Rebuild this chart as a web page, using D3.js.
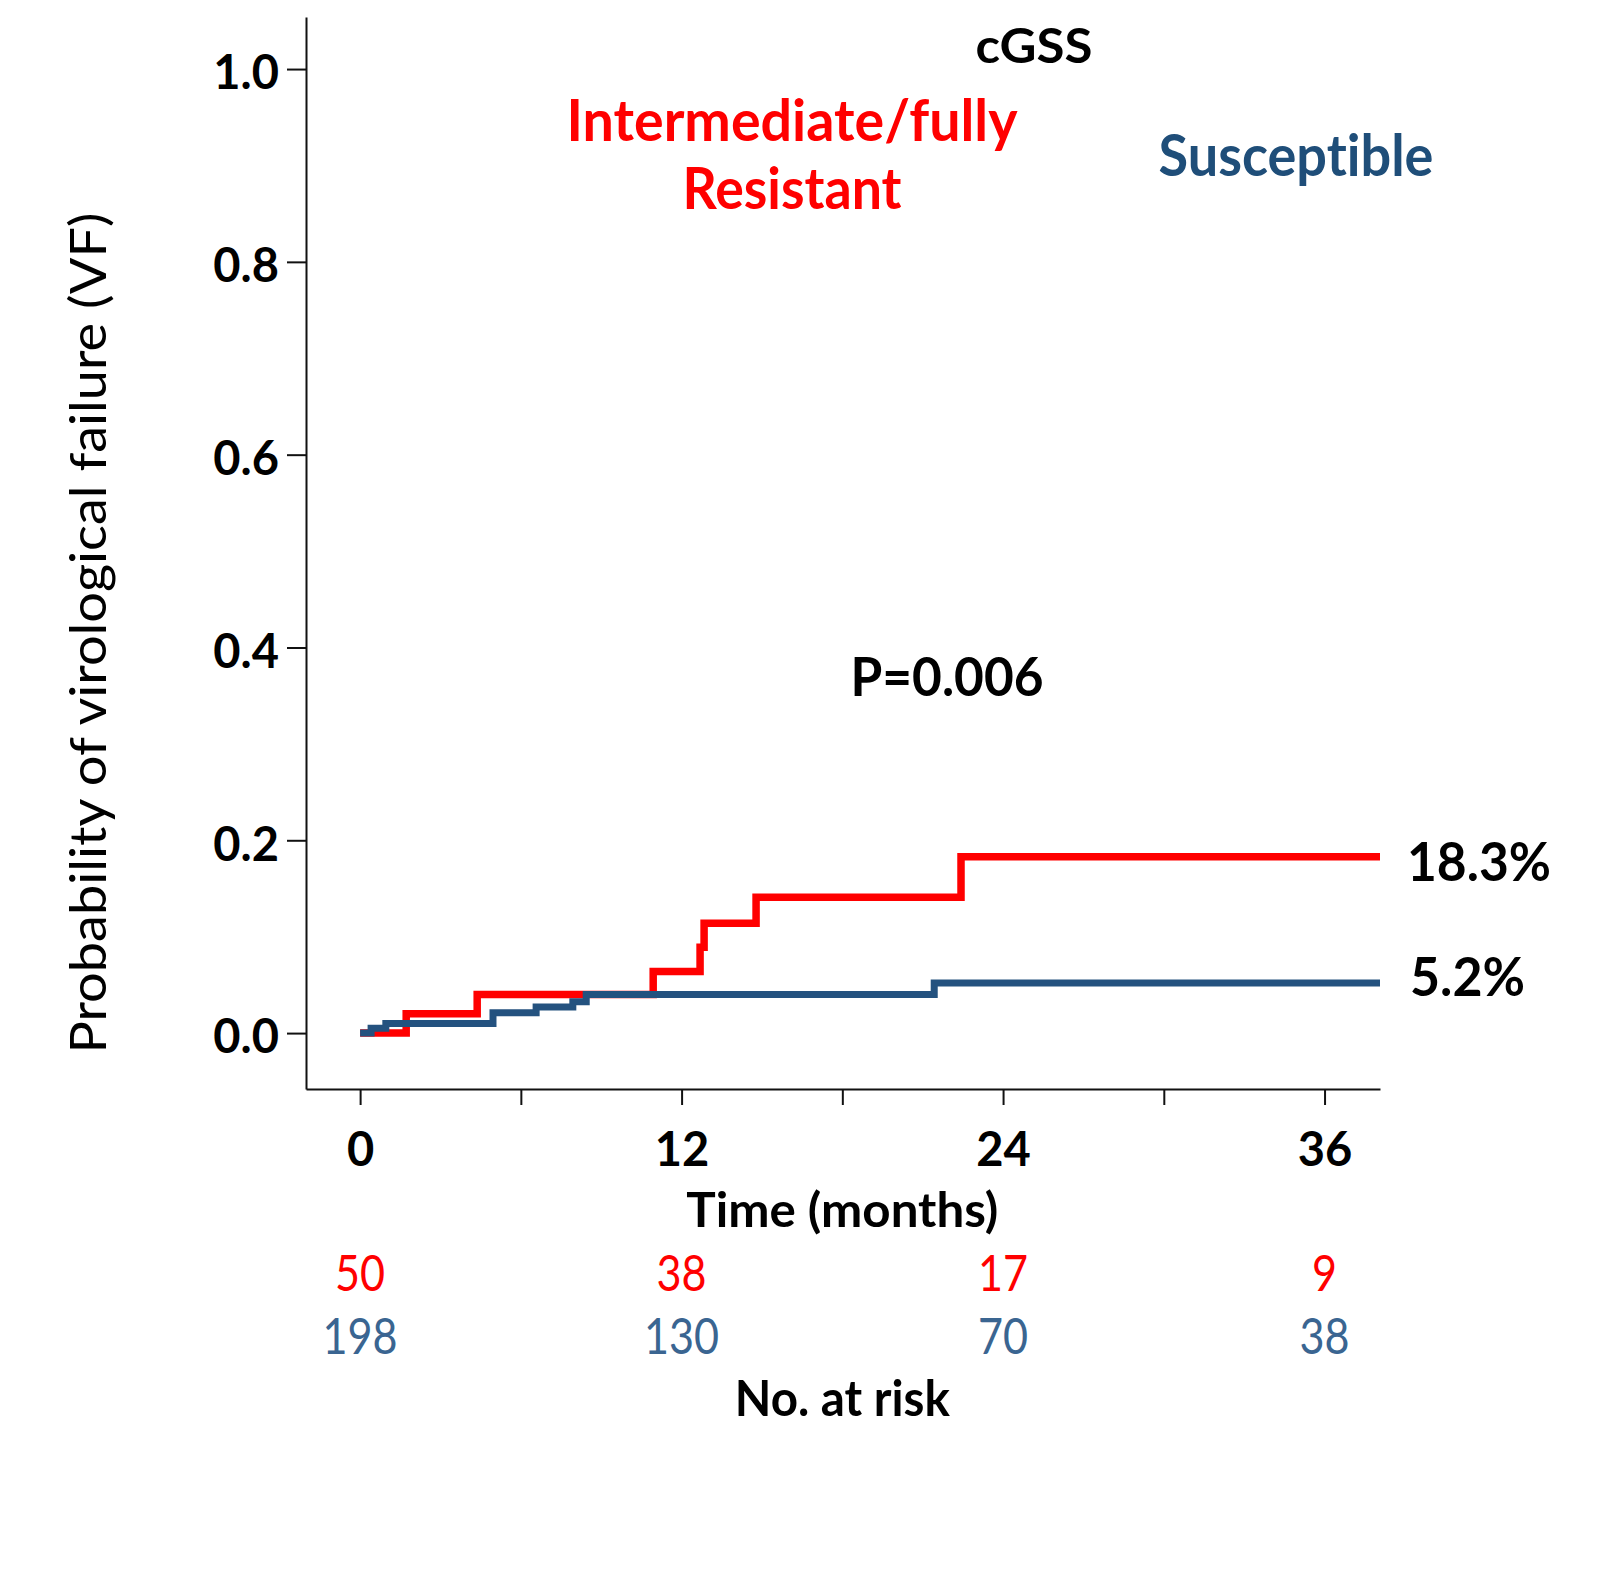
<!DOCTYPE html>
<html>
<head>
<meta charset="utf-8">
<script src="https://cdn.jsdelivr.net/npm/d3@7"></script>
<style>
  body { margin: 0; background: #fff; }
  svg { display: block; font-family: Lato, "Open Sans", sans-serif; font-variant-ligatures: none; }
  .axis path, .axis line { stroke: #111; stroke-width: 2; }
</style>
</head>
<body>
<script>
// Cumulative incidence of VF
const redTimes  = [0, 1.72, 4.37, 10.94, 12.69, 12.84, 14.78, 22.43, 38.07];
const redProb   = [0, 0.020, 0.040, 0.064, 0.089, 0.114, 0.141, 0.183, 0.183];
const blueTimes = [0, 0.41, 0.96, 4.96, 6.57, 7.94, 8.44, 21.43, 38.07];
const blueProb  = [0, 0.005, 0.010, 0.021, 0.027, 0.0325, 0.040, 0.052, 0.052];

const yTicks = [0, 0.2, 0.4, 0.6, 0.8, 1.0];
const xTicks = [0, 6, 12, 18, 24, 30, 36];
const xLabelled = [0, 12, 24, 36];

// Number at risk
const riskTimes = [0, 12, 24, 36];
const riskRed   = [50, 38, 17, 9];
const riskBlue  = [198, 130, 70, 38];

const RED = "#ff0000", BLUE = "#24527f", BLUE_TXT = "#1f4e79", BLUE_RISK = "#3a6591";

var width = 1607, height = 1571;

var svg = d3.select("body").append("svg")
    .attr("width", width)
    .attr("height", height);

svg.append("rect").attr("width", width).attr("height", height).attr("fill", "#fff");

// Scales
var x = d3.scaleLinear().domain([-2.02, 38.07]).range([306, 1380]);
var y = d3.scaleLinear().domain([-0.058, 1.054]).range([1089, 17]);

// Y axis
var yAxis = d3.axisLeft(y)
    .tickValues(yTicks)
    .tickSize(19)
    .tickSizeOuter(0)
    .tickPadding(8)
    .tickFormat(d3.format(".1f"));

var gy = svg.append("g")
    .attr("class", "axis")
    .attr("transform", `translate(${x.range()[0]},0)`)
    .call(yAxis);
gy.selectAll("text")
    .attr("font-size", 47)
    .attr("font-weight", 700)
    .attr("fill", "#000")
    .attr("dy", "0.42em")
    .attr("font-family", "Lato");

// X axis
var xAxis = d3.axisBottom(x)
    .tickValues(xTicks)
    .tickSize(16)
    .tickSizeOuter(0)
    .tickPadding(28)
    .tickFormat(d => xLabelled.includes(d) ? d : "");

var gx = svg.append("g")
    .attr("class", "axis")
    .attr("transform", `translate(0,${y.range()[0]})`)
    .call(xAxis);
gx.selectAll("text")
    .attr("font-size", 47)
    .attr("font-weight", 700)
    .attr("fill", "#000")
    .attr("font-family", "Lato");

// Step curves
var step = d3.line()
    .curve(d3.curveStepAfter)
    .x(d => x(d[0]))
    .y(d => y(d[1]));

svg.append("path")
    .datum(d3.zip(redTimes, redProb))
    .attr("fill", "none")
    .attr("stroke", RED)
    .attr("stroke-width", 7.5)
    .attr("d", step);

svg.append("path")
    .datum(d3.zip(blueTimes, blueProb))
    .attr("fill", "none")
    .attr("stroke", BLUE)
    .attr("stroke-width", 7)
    .attr("d", step);

// Labels
function label(txt, cx, base, size, weight, color, len, anchor) {
    return svg.append("text")
        .attr("x", cx)
        .attr("y", base)
        .attr("text-anchor", anchor || "middle")
        .attr("font-size", size)
        .attr("font-weight", weight)
        .attr("fill", color)
        .attr("textLength", len)
        .attr("lengthAdjust", "spacingAndGlyphs")
        .text(txt);
}

label("cGSS", 1034, 63, 48, 700, "#000", 117);
label("Intermediate/fully", 792, 141, 58, 700, RED, 451);
label("Resistant", 792, 209, 58, 700, RED, 219);
label("Susceptible", 1296, 176, 57, 700, BLUE_TXT, 275);
label("P=0.006", 947, 696, 54, 700, "#000", 193);
label("18.3%", 1407, 881, 53, 700, "#000", 144, "start");
label("5.2%", 1410, 996, 53, 700, "#000", 115, "start");

label("Time (months)", x(18), 1227, 47, 700, "#000", 312);
label("No. at risk", x(18), 1416, 49, 700, "#000", 215);

// Number at risk rows
svg.selectAll(".riskRed").data(riskTimes)
  .enter().append("text")
    .attr("class", "riskRed")
    .attr("x", d => x(d))
    .attr("y", 1291)
    .attr("text-anchor", "middle")
    .attr("font-size", 50)
    .attr("fill", RED)
    .attr("textLength", (d, i) => String(riskRed[i]).length * 25)
    .attr("lengthAdjust", "spacingAndGlyphs")
    .text((d, i) => riskRed[i]);

svg.selectAll(".riskBlue").data(riskTimes)
  .enter().append("text")
    .attr("class", "riskBlue")
    .attr("x", d => x(d))
    .attr("y", 1354)
    .attr("text-anchor", "middle")
    .attr("font-size", 50)
    .attr("fill", BLUE_RISK)
    .attr("textLength", (d, i) => String(riskBlue[i]).length * 25)
    .attr("lengthAdjust", "spacingAndGlyphs")
    .text((d, i) => riskBlue[i]);

// Y axis title
svg.append("text")
    .attr("transform", "translate(106,633) rotate(-90)")
    .attr("text-anchor", "middle")
    .attr("font-size", 51)
    .attr("fill", "#000")
    .attr("textLength", 841)
    .attr("lengthAdjust", "spacingAndGlyphs")
    .text("Probability of virological failure (VF)");
</script>
</body>
</html>
